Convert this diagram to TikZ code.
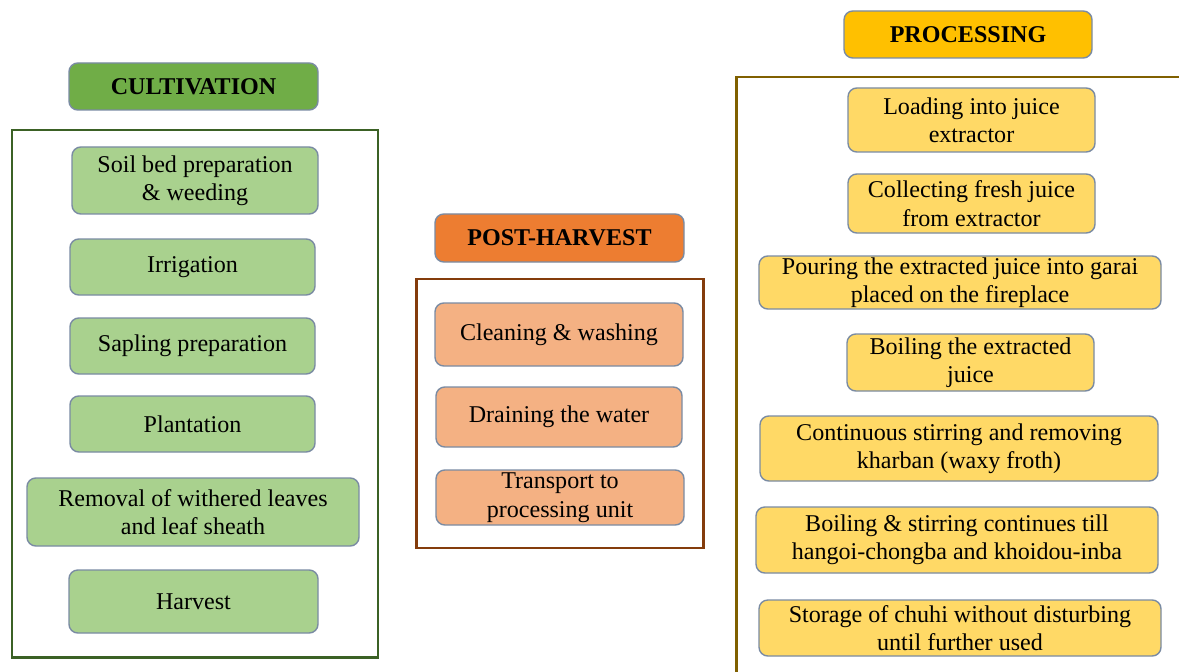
\documentclass[tikz,border=0pt]{standalone}
\usepackage{fontspec}
\setmainfont{Liberation Serif}
\definecolor{gHead}{HTML}{70AD47}
\definecolor{gFrame}{HTML}{3B6125}
\definecolor{gBox}{HTML}{A9D18E}
\definecolor{oHead}{HTML}{ED7D31}
\definecolor{oFrame}{HTML}{843C0C}
\definecolor{oBox}{HTML}{F4B183}
\definecolor{yHead}{HTML}{FFC000}
\definecolor{yFrame}{HTML}{806000}
\definecolor{yBox}{HTML}{FFD966}
\definecolor{bEdge}{HTML}{7A8BA3}
\tikzset{
  stepbox/.style={draw=bEdge, line width=0.8pt, rounded corners=5pt, inner sep=0pt, align=center,
    font=\fontsize{13.7}{16.2}\selectfont},
  headbox/.style={stepbox, font=\fontsize{13.7}{16}\selectfont\bfseries},
  frameline/.style={line width=1.7pt},
}
\newcommand\bx[7]{%
  \node[#1, minimum width={(#4-#2)*0.02cm}, minimum height={(#5-#3)*0.02cm}] (#6) at ({(#2+#4)/2},{(#3+#5)/2}) {#7};}
\begin{document}
\begin{tikzpicture}[x=0.02cm,y=-0.02cm]
\useasboundingbox (0,0) rectangle (1179,672);
% cultivation
\bx{headbox, fill=gHead}{69}{63}{318}{110}{cultH}{CULTIVATION}
\node[draw=gFrame, frameline, inner sep=0pt, minimum width={366*0.02cm}, minimum height={527*0.02cm}] (cultF) at (195,393.5) {};
\bx{stepbox, fill=gBox}{72}{147}{318}{214}{c1}{Soil bed preparation\\ \& weeding}
\bx{stepbox, fill=gBox}{70}{239}{315}{295}{c2}{Irrigation}
\bx{stepbox, fill=gBox}{70}{318}{315}{374}{c3}{Sapling preparation}
\bx{stepbox, fill=gBox}{70}{396}{315}{452}{c4}{Plantation}
\bx{stepbox, fill=gBox}{27}{478}{359}{546}{c5}{Removal of withered leaves\\ and leaf sheath}
\bx{stepbox, fill=gBox}{69}{570}{318}{633}{c6}{Harvest}
% post-harvest
\bx{headbox, fill=oHead}{435}{214}{684}{262}{postH}{POST-HARVEST}
\node[draw=oFrame, frameline, inner sep=0pt, minimum width={287*0.02cm}, minimum height={269*0.02cm}] (postF) at (559.5,413.5) {};
\bx{stepbox, fill=oBox}{435}{303}{683}{366}{p1}{Cleaning \& washing}
\bx{stepbox, fill=oBox}{436}{387}{682}{447}{p2}{Draining the water}
\bx{stepbox, fill=oBox}{436}{470}{684}{525}{p3}{Transport to\\ processing unit}
% processing
\bx{headbox, fill=yHead}{844}{11}{1092}{58}{procH}{PROCESSING}
\coordinate (fA) at (1179,77);
\coordinate (fB) at (736,77);
\coordinate (fC) at (736,672);
\draw[yFrame, frameline] (fA) -- (fB) -- (fC);
\bx{stepbox, fill=yBox}{848}{88}{1095}{152}{r1}{Loading into juice\\ extractor}
\bx{stepbox, fill=yBox}{848}{174}{1095}{233}{r2}{Collecting fresh juice\\ from extractor}
\bx{stepbox, fill=yBox}{759}{256}{1161}{309}{r3}{Pouring the extracted juice into garai\\ placed on the fireplace}
\bx{stepbox, fill=yBox}{847}{334}{1094}{391}{r4}{Boiling the extracted\\ juice}
\bx{stepbox, fill=yBox}{760}{416}{1158}{481}{r5}{Continuous stirring and removing\\ kharban (waxy froth)}
\bx{stepbox, fill=yBox}{756}{507}{1158}{573}{r6}{Boiling \& stirring continues till\\ hangoi-chongba and khoidou-inba}
\bx{stepbox, fill=yBox}{759}{600}{1161}{656}{r7}{Storage of chuhi without disturbing\\ until further used}
\end{tikzpicture}
\end{document}
